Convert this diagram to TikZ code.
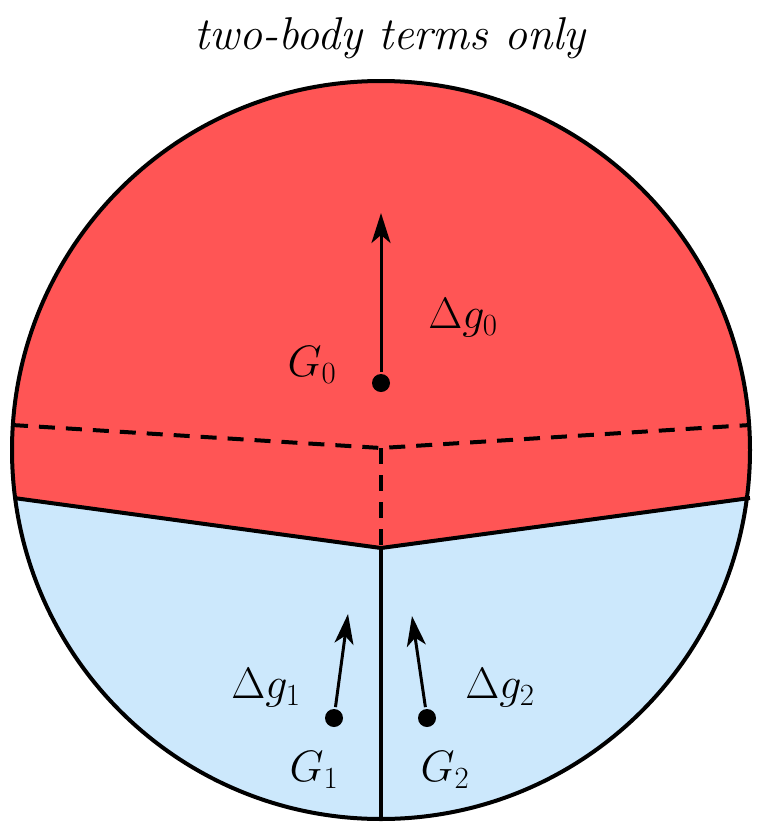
\RequirePackage{fix-cm}
\documentclass[tikz,border=0pt]{standalone}
\usetikzlibrary{arrows.meta}
\definecolor{hotred}{HTML}{FF5555}
\definecolor{paleblue}{HTML}{CCE8FC}
\tikzset{
  big/.style={font=\fontsize{44}{52}\selectfont},
  flow/.style={line width=3pt, -{Stealth[length=30pt,width=19pt,inset=8pt]}},
  dot/.style={circle, fill=black, inner sep=0pt, minimum size=18pt},
}
\begin{document}
\begin{tikzpicture}[x=1pt, y=-1pt, line width=4pt]
\useasboundingbox (0,0) rectangle (763,828);
\coordinate (C) at (381,450);
\coordinate (L) at (14,498);
\coordinate (M) at (381,548);
\coordinate (R) at (750,498);
\coordinate (B) at (381,819);
% regions
\begin{scope}
\clip (C) circle (369);
\fill[paleblue] (C) circle (369);
\fill[hotred] (0,0) -- (0,498) -- (L) -- (M) -- (R) -- (763,498) -- (763,0) -- cycle;
\end{scope}
% borders
\draw[dashed, dash pattern=on 16pt off 11pt] (12,425) -- (381,448) -- (750,425);
\draw[dashed, dash pattern=on 16pt off 11pt] (381,448) -- (M);
\draw (L) -- (M) -- (R);
\draw (M) -- (B);
\draw (C) circle (369);
% points and shifts
\node[dot] (G0) at (381,383) {};
\coordinate (T0) at (381,213);
\draw[flow] (G0) -- (T0);
\node[big] (l0) at (463,318) {$\Delta g_0$};
\node[big] (n0) at (312,365) {$G_0$};
\node[dot] (G1) at (334,718) {};
\coordinate (T1) at (348,614);
\draw[flow] (G1) -- (T1);
\node[big] (l1) at (266,688) {$\Delta g_1$};
\node[big] (n1) at (314,770) {$G_1$};
\node[dot] (G2) at (427,718) {};
\coordinate (T2) at (412,616);
\draw[flow] (G2) -- (T2);
\node[big] (l2) at (500,688) {$\Delta g_2$};
\node[big] (n2) at (445,770) {$G_2$};
\node[font=\fontsize{46}{54}\selectfont\itshape] (title) at (390,38) {two-body terms only};
\end{tikzpicture}
\end{document}
